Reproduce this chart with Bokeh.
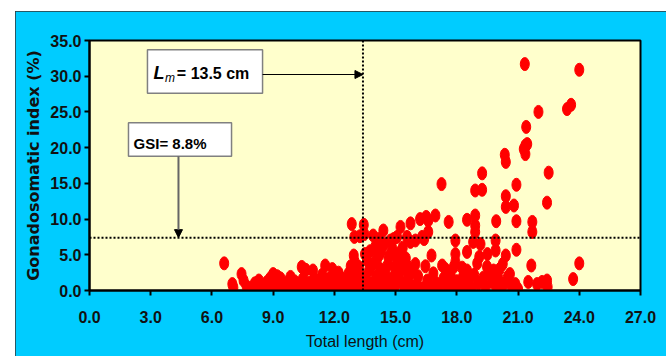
from bokeh.plotting import figure
from bokeh.models import (Range1d, FixedTicker, PrintfTickFormatter, Span, Label,
                          Arrow, NormalHead, ColumnDataSource)
from bokeh.embed import file_html
from bokeh.resources import INLINE

# ---- data ----
x_ticks = [0, 3, 6, 9, 12, 15, 18, 21, 24, 27]
y_ticks = [0, 5, 10, 15, 20, 25, 30, 35]
x_label = "Total length (cm)"
y_label = "Gonadosomatic index (%)"
lm_value = 13.4          # position of the Lm reference line
gsi_value = 7.4          # position of the GSI reference line
lm_text = "= 13.5 cm"
gsi_text = "GSI= 8.8%"

pts_07_12 = [(6.6, 3.8), (7.0, 0.9), (7.05, 0.4), (7.45, 2.3), (7.55, 1.4), (7.7, 0.6),
             (7.9, 0.2), (8.1, 1.0), (8.2, 0.4), (8.3, 1.4), (8.45, 0.7), (8.6, 0.3),
             (8.7, 1.2), (8.85, 1.7), (8.9, 0.5), (9.0, 2.3), (9.05, 1.0), (9.2, 2.0),
             (9.25, 0.3), (9.36, 1.7), (9.4, 0.8), (9.55, 0.4), (9.7, 1.2), (9.85, 1.9),
             (9.9, 0.6), (10.05, 1.3), (10.1, 0.2), (10.25, 0.9), (10.4, 3.3), (10.45, 1.6),
             (10.55, 0.5), (10.6, 2.9), (10.7, 1.1), (10.8, 0.3), (10.95, 2.8), (11.0, 1.7),
             (11.1, 0.7), (11.2, 0.2), (11.3, 1.2), (11.4, 2.2), (11.55, 3.5), (11.6, 0.5),
             (11.7, 1.6), (11.8, 0.9), (11.9, 3.0), (11.95, 2.1), (12.05, 0.3), (12.1, 1.3),
             (12.2, 2.5), (12.3, 1.9), (12.35, 0.6), (12.45, 1.0)]

pts_12_16 = [(12.55, 0.4), (12.6, 1.5), (12.7, 2.4), (12.75, 0.9), (12.8, 3.4), (12.85, 9.3),
             (12.9, 1.8), (12.95, 4.9), (12.98, 7.5), (13.0, 4.0), (13.05, 0.3), (13.1, 2.7),
             (13.15, 1.2), (13.2, 3.3), (13.25, 7.6), (13.3, 0.7), (13.35, 2.0), (13.44, 9.2),
             (13.47, 7.9), (13.5, 5.1), (13.55, 1.4), (13.6, 4.2), (13.65, 0.3), (13.7, 2.8),
             (13.75, 5.5), (13.8, 1.0), (13.85, 3.6), (13.9, 7.7), (13.95, 0.5), (14.0, 6.1),
             (14.0, 3.9), (14.05, 2.0), (14.1, 4.5), (14.17, 7.2), (14.2, 1.3), (14.2, 5.0),
             (14.26, 3.0), (14.3, 5.6), (14.35, 0.4), (14.4, 8.4), (14.45, 6.5), (14.5, 2.3),
             (14.55, 1.0), (14.6, 3.5), (14.65, 4.6), (14.75, 7.0), (14.75, 5.1), (14.8, 0.3),
             (14.85, 1.8), (14.85, 5.8), (14.9, 7.2), (14.95, 3.3), (15.0, 0.8), (15.05, 4.7),
             (15.07, 7.5), (15.1, 3.7), (15.15, 2.1), (15.2, 5.3), (15.24, 8.9), (15.3, 1.1),
             (15.3, 4.0), (15.35, 6.0), (15.4, 3.0), (15.45, 0.4), (15.5, 4.5), (15.56, 7.5),
             (15.56, 3.5), (15.6, 1.6), (15.73, 9.4), (15.73, 6.8), (15.8, 2.5), (15.85, 0.6),
             (15.97, 3.7), (15.97, 7.0)]

pts_16_20 = [(16.05, 0.9), (16.1, 2.0), (16.2, 10.0), (16.3, 7.5), (16.35, 0.3), (16.4, 7.2),
             (16.46, 3.4), (16.5, 10.3), (16.55, 1.4), (16.6, 9.8), (16.6, 8.2), (16.7, 0.6),
             (16.76, 4.9), (16.85, 2.4), (16.95, 10.5), (17.0, 1.0), (17.1, 0.4), (17.25, 14.9),
             (17.28, 3.5), (17.35, 1.7), (17.44, 3.0), (17.5, 0.7), (17.6, 9.6), (17.7, 2.0),
             (17.8, 0.3), (17.85, 3.3), (17.93, 7.0), (17.93, 5.1), (17.93, 4.0), (18.0, 1.3),
             (18.1, 0.6), (18.26, 3.2), (18.3, 1.9), (18.4, 0.9), (18.5, 9.9), (18.5, 5.4),
             (18.5, 2.8), (18.6, 1.5), (18.7, 0.4), (18.8, 6.8), (18.85, 2.2), (18.9, 14.0),
             (18.9, 10.5), (18.9, 9.1), (18.9, 8.2), (19.0, 3.8), (19.05, 1.0), (19.1, 4.7),
             (19.16, 6.5), (19.24, 16.4), (19.24, 14.1), (19.3, 1.8), (19.4, 0.5), (19.48, 3.3),
             (19.5, 5.1), (19.6, 2.4), (19.7, 1.2), (19.8, 2.8), (19.9, 7.0), (19.9, 5.6),
             (19.93, 9.7), (19.95, 0.4)]

pts_20_25 = [(20.05, 1.6), (20.1, 3.0), (20.25, 3.7), (20.3, 0.9), (20.35, 19.0), (20.4, 18.0),
             (20.4, 13.2), (20.4, 11.7), (20.4, 4.9), (20.5, 1.9), (20.6, 2.3), (20.7, 0.5),
             (20.8, 11.9), (20.87, 0.9), (20.92, 14.8), (20.92, 9.7), (20.92, 5.7), (21.0, 0.2),
             (21.28, 19.8), (21.33, 31.7), (21.36, 20.3), (21.36, 19.1), (21.4, 22.9),
             (21.45, 20.5), (21.5, 1.2), (21.7, 9.6), (21.7, 8.2), (21.65, 3.5), (21.93, 0.9),
             (22.0, 25.0), (22.18, 1.2), (22.42, 12.3), (22.42, 1.4), (22.5, 16.5), (22.45, 0.5),
             (23.4, 25.4), (23.6, 26.0), (23.7, 1.6), (24.0, 30.9), (24.0, 3.8)]

# annotation layout (data units)
lm_box = dict(left=2.84, right=8.48, top=33.7, bottom=27.6)
gsi_box = dict(left=1.91, right=6.96, top=23.5, bottom=18.8)

all_pts = pts_07_12 + pts_12_16 + pts_16_20 + pts_20_25
src = ColumnDataSource(data=dict(tl=[p_[0] for p_ in all_pts], gsi=[p_[1] for p_ in all_pts]))

SANS = "Liberation Sans"

p = figure(width=651, height=345, x_range=Range1d(0, 27), y_range=Range1d(0, 35),
           output_backend="svg", toolbar_location=None, margin=(11, 0, 0, 15),
           min_border_left=74, min_border_right=26, min_border_top=29, min_border_bottom=66,
           background_fill_color="#FFFFCC", border_fill_color="#00CCFF",
           styles={"outline": "1px solid #333333", "outline-offset": "-1px"})
p.grid.visible = False
p.outline_line_color = "black"
p.outline_line_width = 2

for ax in (p.xaxis[0], p.yaxis[0]):
    ax.axis_line_color = "black"
    ax.axis_line_width = 2
    ax.major_tick_line_color = "black"
    ax.major_tick_line_width = 2
    ax.major_tick_out = 5
    ax.major_tick_in = 0
    ax.minor_tick_line_color = None
    ax.formatter = PrintfTickFormatter(format="%.1f")
    ax.major_label_text_font = SANS
    ax.major_label_text_font_style = "bold"
    ax.major_label_text_font_size = "16px"
    ax.major_label_text_color = "#111111"

p.xaxis[0].ticker = FixedTicker(ticks=x_ticks)
p.yaxis[0].ticker = FixedTicker(ticks=y_ticks)
p.xaxis[0].major_label_standoff = 15
p.yaxis[0].major_label_standoff = 3

p.xaxis.axis_label = x_label
p.xaxis.axis_label_text_font = SANS
p.xaxis.axis_label_text_font_style = "normal"
p.xaxis.axis_label_text_font_size = "16px"
p.xaxis.axis_label_text_color = "#111111"
p.xaxis.axis_label_standoff = 7

p.yaxis.axis_label = y_label
p.yaxis.axis_label_text_font = "DejaVu Sans"
p.yaxis.axis_label_text_font_style = "bold"
p.yaxis.axis_label_text_font_size = "16px"
p.yaxis.axis_label_text_color = "#111111"
p.yaxis.axis_label_standoff = 4

# reference lines
p.add_layout(Span(location=lm_value, dimension="height", line_color="black",
                  line_width=2, line_dash="2 2"))
p.add_layout(Span(location=gsi_value, dimension="width", line_color="black",
                  line_width=2, line_dash="2 2"))

# points
p.ellipse(x="tl", y="gsi", width=9, height=13, width_units="screen", height_units="screen",
          source=src, fill_color="#FF0000", line_color="#FF0000")

# annotation boxes
for b in (lm_box, gsi_box):
    p.quad(left=[b["left"]], right=[b["right"]], top=[b["top"]], bottom=[b["bottom"]],
           fill_color="white", line_color="#808080", line_width=1.5)

# arrows
p.add_layout(Arrow(end=NormalHead(size=8, fill_color="black", line_color="black"),
                   x_start=lm_box["right"], y_start=30.24, x_end=lm_value, y_end=30.24,
                   line_color="black", line_width=1.2))
p.add_layout(Arrow(end=NormalHead(size=8, fill_color="black", line_color="black"),
                   x_start=4.36, y_start=gsi_box["bottom"], x_end=4.36, y_end=gsi_value,
                   line_color="#666666", line_width=2))

# texts
p.add_layout(Label(x=3.14, y=30.4, text="L", text_font=SANS, text_font_style="bold italic",
                   text_font_size="18px", text_baseline="alphabetic", text_color="black"))
p.add_layout(Label(x=3.7, y=29.7, text="m", text_font=SANS, text_font_style="italic",
                   text_font_size="12px", text_baseline="alphabetic", text_color="black"))
p.add_layout(Label(x=4.28, y=30.4, text=lm_text, text_font=SANS, text_font_style="bold",
                   text_font_size="16px", text_baseline="alphabetic", text_color="black"))
p.add_layout(Label(x=2.16, y=20.6, text=gsi_text, text_font=SANS, text_font_style="bold",
                   text_font_size="15px", text_baseline="alphabetic", text_color="black"))

open("out.html", "w").write(file_html(p, INLINE))
